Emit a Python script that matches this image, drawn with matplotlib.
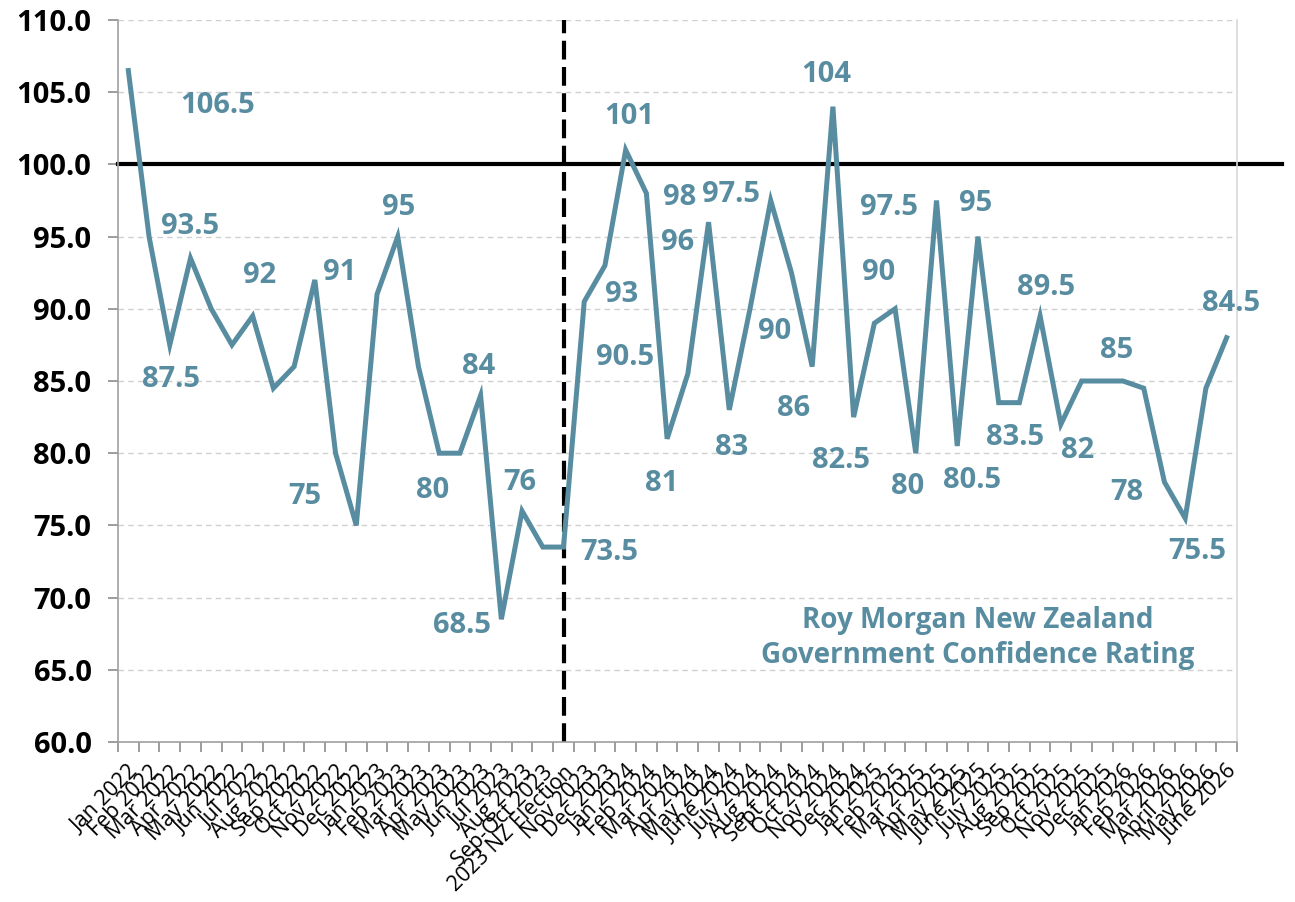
import numpy as np
import matplotlib
matplotlib.use("Agg")
from matplotlib import pyplot as plt

months = ["Jan 2022", "Feb 2022", "Mar 2022", "Apr 2022", "May 2022", "Jun 2022",
          "Jul 2022", "Aug 2022", "Sep 2022", "Oct 2022", "Nov 2022", "Dec 2022",
          "Jan 2023", "Feb 2023", "Mar 2023", "Apr 2023", "May 2023", "Jun 2023",
          "Jul 2023", "Aug 2023", "Sep-Oct 2023", "2023 NZ Election", "Nov 2023", "Dec 2023",
          "Jan 2024", "Feb 2024", "Mar 2024", "Apr 2024", "May 2024", "June 2024",
          "July 2024", "Aug 2024", "Sept 2024", "Oct 2024", "Nov 2024", "Dec 2024",
          "Jan 2025", "Feb 2025", "Mar 2025", "Apr 2025", "May 2025", "June 2025",
          "July 2025", "Aug 2025", "Sep 2025", "Oct 2025", "Nov 2025", "Dec 2025",
          "Jan 2026", "Feb 2026", "Mar 2026", "April 2026", "May 2026", "June 2026"]

rating = [106.5, 95, 87.5, 93.5, 90, 87.5, 89.5, 84.5, 86, 92, 80, 75,
          91, 95, 86, 80, 80, 84, 68.5, 76, 73.5, 73.5, 90.5, 93,
          101, 98, 81, 85.5, 96, 83, 90, 97.5, 92.5, 86, 104, 82.5,
          89, 90, 80, 97.5, 80.5, 95, 83.5, 83.5, 89.5, 82, 85, 85,
          85, 84.5, 78, 75.5, 84.5, 88]

# value labels as they sit on the original chart: (text, x position, y position)
label_text = ["106.5", "93.5", "87.5", "92", "91", "75", "95", "80", "84", "68.5", "76", "73.5",
              "101", "93", "90.5", "98", "96", "81", "97.5", "83", "90", "86", "104", "82.5",
              "97.5", "90", "80", "95", "80.5", "89.5", "83.5", "82", "85", "78", "75.5", "84.5"]
label_x = [4.3, 3.0, 2.05, 6.35, 10.2, 8.5, 13.05, 14.7, 16.9, 16.1, 18.9, 23.2,
           24.15, 23.8, 23.95, 26.6, 26.5, 25.75, 29.1, 29.1, 31.2, 32.1, 33.7, 34.4,
           36.7, 36.2, 37.6, 40.9, 40.7, 44.3, 42.8, 45.8, 47.7, 48.2, 51.6, 53.2]
label_y = [104.1, 95.7, 85.1, 92.3, 92.5, 77.0, 97.0, 77.45, 86.0, 68.1, 78.0, 73.1,
           103.3, 91.0, 86.6, 97.7, 94.6, 77.9, 97.9, 80.4, 88.4, 83.1, 106.2, 79.5,
           97.0, 92.5, 77.7, 97.3, 78.1, 91.5, 81.1, 80.2, 87.1, 77.3, 73.2, 90.4]

election = "2023 NZ Election"
teal = "#588CA0"

x = np.arange(len(months))

fig = plt.figure(figsize=(12.95, 9.02), dpi=100)
ax = fig.add_axes([0.0911, 0.1774, 0.8641, 0.8004])

ax.plot(x, rating, color=teal, lw=3.6, solid_joinstyle="miter", zorder=3)

for t, lx, ly in zip(label_text, label_x, label_y):
    ax.text(lx, ly, t, color=teal, fontsize=21, fontweight="bold", family="Open Sans",
            ha="center", va="center", zorder=4, clip_on=False)

ax.axhline(100, xmin=0, xmax=1.04, color="black", lw=3, clip_on=False, zorder=2)
ax.axvline(months.index(election), color="black", lw=3, ls=(0, (4.5, 1.8)), zorder=2)

ax.text(41, 67.2, "Roy Morgan New Zealand\nGovernment Confidence Rating", color=teal,
        fontsize=20, fontweight="bold", family="Open Sans", ha="center", va="center",
        linespacing=1.3)

ax.set_xlim(-0.5, len(months) - 0.5)
ax.set_ylim(60, 110)
ax.set_yticks(np.arange(60, 110.1, 5))
ax.set_yticklabels([f"{v:.1f}" for v in np.arange(60, 110.1, 5)],
                   fontsize=21, fontweight="bold", family="Open Sans")
ax.yaxis.grid(True, color="#D0D0D0", ls=(0, (4, 3)), lw=1)
ax.set_axisbelow(True)

ax.set_xticks(x)
ax.set_xticklabels(months, rotation=45, ha="right", rotation_mode="anchor",
                   fontsize=15.5, family="Open Sans", color="black")
ax.set_xticks(np.arange(-0.5, len(months), 1), minor=True)
ax.tick_params(axis="x", which="major", length=0, pad=14)
ax.tick_params(axis="x", which="minor", length=7, color="#8C8C8C", width=1.2, direction="out")
ax.tick_params(axis="y", length=7, color="#8C8C8C", width=1.2, pad=12)

for s in ["left", "bottom", "right"]:
    ax.spines[s].set_color("#A0A0A0")
    ax.spines[s].set_linewidth(1.2)
ax.spines["right"].set_color("#D9D9D9")
ax.spines["top"].set_visible(False)

fig.savefig("out.png", dpi=100)
